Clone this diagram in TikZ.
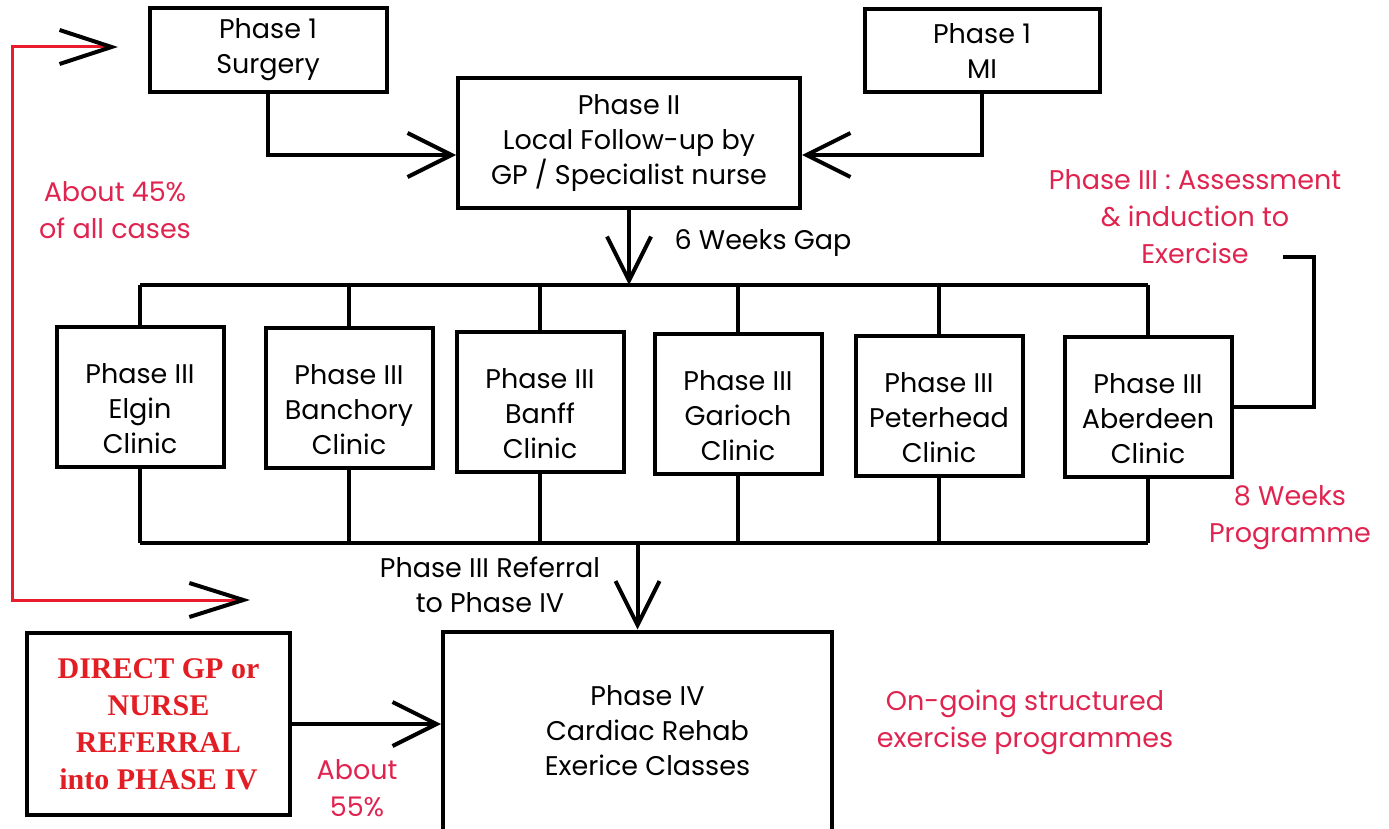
\documentclass[tikz,border=0pt]{standalone}
\usepackage{fontspec}
\setmainfont{Poppins}
\newfontfamily\gpfont{Liberation Serif}
\usetikzlibrary{arrows.meta}

\definecolor{notered}{RGB}{224,36,80}
\definecolor{linered}{RGB}{232,28,44}
\definecolor{gpred}{RGB}{226,30,36}

\begin{document}
\begin{tikzpicture}
  [x=0.5pt,y=-0.5pt,
   every node/.style={font=\fontsize{13.5}{17.5}\selectfont, align=center},
   box/.style={draw, line width=2pt, inner sep=0pt},
   clinic/.style={box, minimum width=83.5pt, minimum height=70pt},
   note/.style={text=notered, font=\fontsize{13.5}{18.5}\selectfont},
   conn/.style={line width=2pt},
   arr/.style={conn, -{Straight Barb[length=22pt, width=22pt, line width=2pt]}}]
  \useasboundingbox (0,0) rectangle (1389,829);

  % phase 1 and 2
  \node[box, minimum width=118.5pt, minimum height=42pt] (surg) at (268,50) {Phase 1\\Surgery};
  \node[box, minimum width=117.5pt, minimum height=41.5pt] (mi) at (982,51) {Phase 1\\MI};
  \node[box, minimum width=171pt, minimum height=65pt] (ph2) at (629,143) {Phase II\\Local Follow-up by\\GP / Specialist nurse};

  % clinics
  \foreach \n/\x/\y/\place in {c1/140/397/Elgin, c2/349/398/Banchory, c3/540/402/Banff,
                               c4/738/404/Garioch, c5/939/406/Peterhead, c6/1148/407/Aberdeen}
    \node[clinic, label={[yshift=-6pt]center:{Phase III\\\place\\Clinic}}] (\n) at (\x,\y) {};

  % phase 4
  \node[box, minimum width=194.5pt, minimum height=101.5pt,
        label={[xshift=5pt, yshift=1pt]center:{Phase IV\\Cardiac Rehab\\Exerice Classes}}] (ph4) at (637.5,733) {};
  \node[box, minimum width=131.5pt, minimum height=91pt,
        font=\gpfont\bfseries\fontsize{15}{18.5}\selectfont, text=gpred] (gp) at (158.5,724)
        {DIRECT GP or\\NURSE\\REFERRAL\\into PHASE IV};

  % labels
  \node (gap) at (763,243) {6 Weeks Gap};
  \node (refer) at (490,585) {Phase III Referral\\to Phase IV};
  \node[note] (pct45) at (115,210) {About 45\%\\of all cases};
  \node[note] (assess) at (1195,217) {Phase III : Assessment\\\& induction to\\Exercise};
  \node[note] (weeks) at (1290,518) {8 Weeks\\Programme};
  \node[note] (ongoing) at (1025,722) {On-going structured\\exercise programmes};
  \node[note] (pct55) at (357,788) {About\\55\%};

  \coordinate (bustop) at (0,285);
  \coordinate (busbot) at (0,543);
  \coordinate (exend) at (1283,257);
  \coordinate (redtop) at (118,47);
  \coordinate (redbot) at (250,600);

  \draw[arr] (surg.south) |- ([yshift=-6pt]ph2.west);
  \draw[arr] (mi.south) |- ([yshift=-6pt]ph2.east);
  \draw[arr] (ph2.south) -- (ph2.south |- bustop);

  \draw[conn] (c1.north |- bustop) -- (c6.north |- bustop);
  \draw[conn] (c1.south |- busbot) -- (c6.south |- busbot);
  \foreach \n in {c1,c2,c3,c4,c5,c6} {
    \draw[conn] (\n.north) -- (\n.north |- bustop);
    \draw[conn] (\n.south) -- (\n.south |- busbot);
  }

  \draw[arr] (ph4.north |- busbot) -- (ph4.north);
  \draw[arr] (gp.east) -- (gp.east -| ph4.west);
  \draw[conn] (exend) -| ([xshift=40pt]c6.east) -- (c6.east);

  \draw[line width=1.5pt, draw=linered,
        {Straight Barb[length=26pt, width=17pt, line width=2pt, color=black]}-{Straight Barb[length=27pt, width=17pt, line width=2pt, color=black]}]
    (redtop) -| (12,600) -- (redbot);
\end{tikzpicture}
\end{document}
